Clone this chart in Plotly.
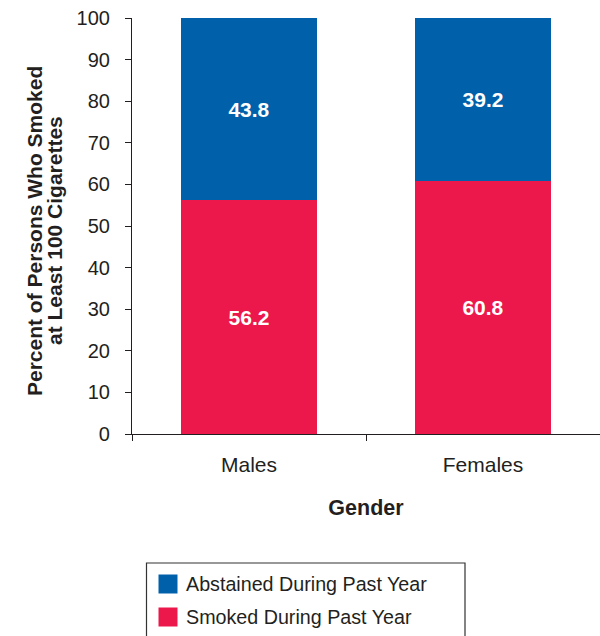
import plotly.graph_objects as go

# Data
genders = ["Males", "Females"]
smoked = [56.2, 60.8]
abstained = [43.8, 39.2]
series_names = ["Smoked During Past Year", "Abstained During Past Year"]
y_ticks = list(range(0, 101, 10))
y_title_lines = ["Percent of Persons Who Smoked", "at Least 100 Cigarettes"]

RED = "#EC174B"
BLUE = "#0061AA"
INK = "#231f20"
FONT = "Liberation Sans, Arial, Helvetica, sans-serif"

W, H = 600, 636
ML, MR, MT, MB = 132, 0, 18, 202
PW = W - ML - MR
PH = H - MT - MB


def px_x(x):
    return (x - ML) / PW


def px_y(y):
    return (H - MB - y) / PH


fig = go.Figure()
for name, vals, col in [(series_names[0], smoked, RED), (series_names[1], abstained, BLUE)]:
    fig.add_trace(go.Bar(
        x=genders, y=vals, name=name, marker=dict(color=col, line=dict(width=0)),
        width=0.58, texttemplate="%{y:.1f}", textposition="inside",
        insidetextanchor="middle",
        textfont=dict(color="white", size=21, family=FONT, weight="bold"),
        showlegend=False,
    ))

# Y-axis title, two rotated lines
for text, cx in zip(y_title_lines, [34, 54]):
    fig.add_annotation(xref="paper", yref="paper", x=px_x(cx), y=px_y(231),
                       xanchor="center", yanchor="middle", textangle=-90,
                       text=text, showarrow=False,
                       font=dict(size=21, color=INK, family=FONT, weight="bold"))

# Legend box with colour keys
fig.add_shape(type="rect", xref="paper", yref="paper",
              x0=px_x(146.5), x1=px_x(465), y0=px_y(563), y1=px_y(660),
              line=dict(color="#333333", width=1.2), fillcolor="white", layer="above")
legend_items = [(series_names[1], BLUE, 584), (series_names[0], RED, 617)]
for name, col, cy in legend_items:
    fig.add_shape(type="rect", xref="paper", yref="paper",
                  x0=px_x(158.5), x1=px_x(177.5), y0=px_y(cy - 9.5), y1=px_y(cy + 9.5),
                  line=dict(width=0), fillcolor=col, layer="above")
    fig.add_annotation(xref="paper", yref="paper", x=px_x(184), y=px_y(cy),
                       xanchor="left", yanchor="middle", text=name, showarrow=False,
                       font=dict(size=19.7, color=INK, family=FONT))

fig.update_layout(
    width=W, height=H, barmode="stack",
    margin=dict(l=ML, r=MR, t=MT, b=MB),
    plot_bgcolor="white", paper_bgcolor="white",
    font=dict(family=FONT, color=INK),
    xaxis=dict(
        type="category", range=[-0.5, 1.5], showline=True, linecolor=INK,
        linewidth=1.2, ticks="outside", tickson="boundaries", ticklen=6,
        tickcolor=INK, showgrid=False, tickfont=dict(size=21),
        ticklabelstandoff=12,
        title=dict(text="Gender", font=dict(size=21.5, weight="bold"), standoff=24),
    ),
    yaxis=dict(
        range=[0, 100], tickvals=y_ticks, showline=True, linecolor=INK,
        linewidth=1.2, ticks="outside", ticklen=6, tickcolor=INK,
        showgrid=False, zeroline=False, tickfont=dict(size=20),
        ticklabelstandoff=11,
    ),
)

fig.write_html("out.html")
